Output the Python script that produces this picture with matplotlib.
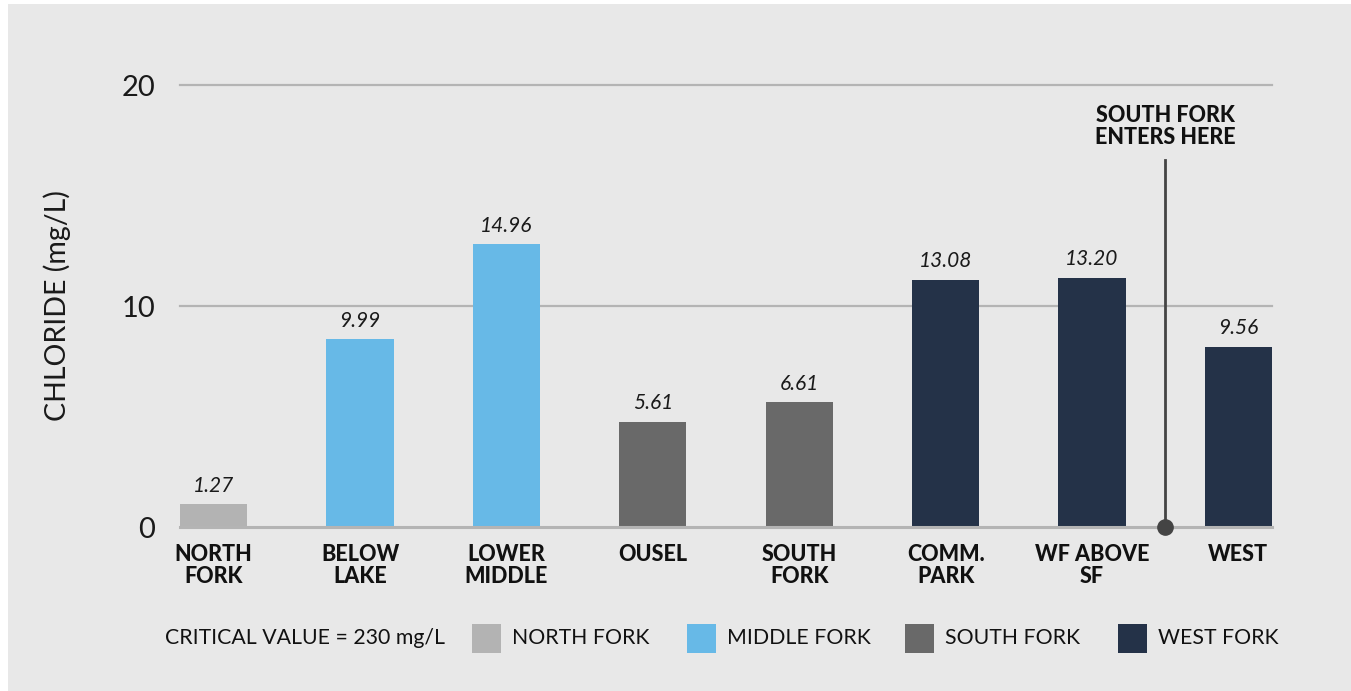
import matplotlib
matplotlib.use("Agg")
import matplotlib.pyplot as plt
from matplotlib.patches import Rectangle

plt.rcParams["font.family"] = ["Lato", "DejaVu Sans"]

# data (bar heights as drawn, labels as printed)
sites = ["NORTH\nFORK", "BELOW\nLAKE", "LOWER\nMIDDLE", "OUSEL", "SOUTH\nFORK",
         "COMM.\nPARK", "WF ABOVE\nSF", "WEST"]
heights = [1.04, 8.50, 12.79, 4.76, 5.65, 11.19, 11.28, 8.16]
value_labels = ["1.27", "9.99", "14.96", "5.61", "6.61", "13.08", "13.20", "9.56"]
forks = ["north", "middle", "middle", "south", "south", "west", "west", "west"]
yticks = [0, 10, 20]

fork_names = ["NORTH FORK", "MIDDLE FORK", "SOUTH FORK", "WEST FORK"]
fork_colors = {"north": "#b3b3b3", "middle": "#67b9e7", "south": "#696969", "west": "#243248"}

W, H = 1351, 691
fig = plt.figure(figsize=(W / 100, H / 100), dpi=100)
fig.patch.set_facecolor("white")
fig.patches.append(Rectangle((8 / W, 0), 1 - 8 / W, 1 - 4 / H, transform=fig.transFigure,
                             facecolor="#e8e8e8", edgecolor="none", zorder=-10))

ax = fig.add_axes([180 / W, 1 - 527 / H, 1092 / W, 442 / H])
ax.set_facecolor("none")
x = list(range(len(sites)))
colors = [fork_colors[f] for f in forks]
ax.bar(x, heights, width=0.46, color=colors, zorder=3)
ax.set_xlim(-0.23, len(sites) - 1 + 0.23)
ax.set_ylim(0, 20)

for spine in ax.spines.values():
    spine.set_visible(False)
for yv in yticks:
    ax.axhline(yv, color="#b4b4b4", lw=2.2 if yv == 0 else 1.6, zorder=1 if yv else 4, clip_on=False)

ax.set_yticks(yticks)
ax.set_yticklabels([str(v) for v in yticks], fontsize=21, color="#1a1a1a")
ax.tick_params(axis="y", length=0, pad=18)
ax.set_xticks(x)
ax.set_xticklabels(sites, fontsize=15.5, fontweight="black", color="#111111", linespacing=1.08)
ax.tick_params(axis="x", length=0, pad=12)
ax.set_ylabel("CHLORIDE (mg/L)", fontsize=20.5, color="#1a1a1a", labelpad=36)

for xi, h, lab in zip(x, heights, value_labels):
    ax.annotate(lab, (xi, h), xytext=(0, 6), textcoords="offset points", ha="center",
                va="bottom", fontsize=15, style="italic", color="#1a1a1a")

# south fork marker
mx = 6.5
ax.plot([mx, mx], [0, 16.6], color="#444444", lw=2, zorder=5, clip_on=False)
ax.plot([mx], [0], marker="o", markersize=11, color="#444444", zorder=6, clip_on=False)
ax.text(mx, 17.15, "SOUTH FORK\nENTERS HERE", ha="center", va="bottom", fontsize=15.5,
        fontweight="black", color="#111111", linespacing=1.05)

# legend row
def px(xp, yp):
    return xp / W, 1 - yp / H

ly = 638
fig.text(*px(165, ly), "CRITICAL VALUE = 230 mg/L", fontsize=15.3, color="#111111", va="center", ha="left")
legend_x = [472, 687, 905, 1118]
for name, key, lx in zip(fork_names, ["north", "middle", "south", "west"], legend_x):
    fig.patches.append(Rectangle(px(lx, ly + 15), 29 / W, 29 / H, transform=fig.transFigure,
                                 facecolor=fork_colors[key], edgecolor="none"))
    fig.text(*px(lx + 40, ly), name, fontsize=15.3, color="#111111", va="center", ha="left")

fig.savefig("out.png", dpi=100, facecolor=fig.get_facecolor())
